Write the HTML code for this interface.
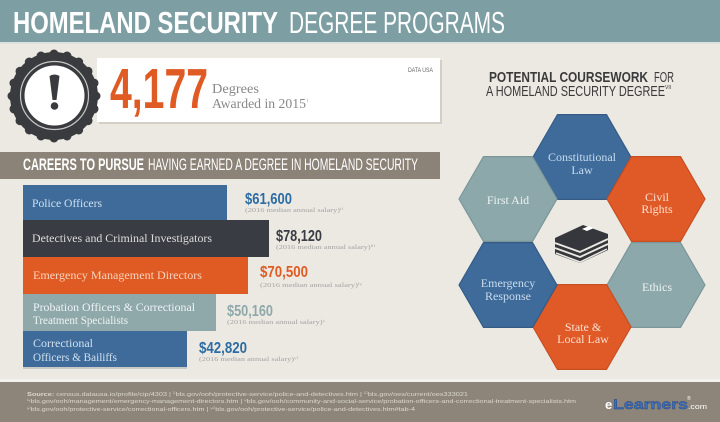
<!DOCTYPE html>
<html><head><meta charset="utf-8"><style>
html,body{margin:0;padding:0;background:#ece9e3;}
svg{display:block;}
.sans{font-family:"Liberation Sans",sans-serif;}
.serif{font-family:"Liberation Serif",serif;}
</style></head><body>
<svg width="720" height="422" viewBox="0 0 720 422" xmlns="http://www.w3.org/2000/svg">
<rect x="0" y="0" width="720" height="422" fill="#ece9e3"/>
<!-- header -->
<rect x="0" y="0" width="720" height="42" fill="#7d9ea3"/>
<rect x="0" y="42" width="720" height="2" fill="#dfe3e0"/>
<text class="sans" x="13" y="33" font-size="31" font-weight="bold" fill="#ffffff" textLength="265" lengthAdjust="spacingAndGlyphs">HOMELAND SECURITY</text>
<text class="sans" x="289" y="33" font-size="31" fill="#ffffff" textLength="216" lengthAdjust="spacingAndGlyphs">DEGREE PROGRAMS</text>

<!-- card -->
<rect x="99" y="60" width="343" height="64" fill="#d3cfc7"/>
<rect x="97" y="58" width="343" height="64" fill="#ffffff"/>
<text class="sans" x="110" y="108" font-size="57" font-weight="bold" fill="#e05a24" textLength="98" lengthAdjust="spacingAndGlyphs">4,177</text>
<text class="serif" x="212" y="93" font-size="13.5" fill="#888888" textLength="47" lengthAdjust="spacingAndGlyphs">Degrees</text>
<text class="serif" x="212" y="108" font-size="13.5" fill="#888888" textLength="94" lengthAdjust="spacingAndGlyphs">Awarded in 2015</text>
<text class="serif" x="307" y="102" font-size="5" fill="#888888">i</text>
<text class="sans" x="408" y="72" font-size="6" fill="#666" textLength="25" lengthAdjust="spacingAndGlyphs">DATA USA</text>

<!-- badge -->
<g fill="#3a3b3f">
<circle cx="54" cy="96" r="44"/>
<circle cx="96" cy="96" r="4.5"/><circle cx="94.0" cy="108.9" r="4.5"/><circle cx="88.0" cy="120.7" r="4.5"/>
<circle cx="78.7" cy="130.0" r="4.5"/><circle cx="67.0" cy="136.0" r="4.5"/><circle cx="54" cy="138" r="4.5"/>
<circle cx="41.0" cy="136.0" r="4.5"/><circle cx="29.3" cy="130.0" r="4.5"/><circle cx="20.0" cy="120.7" r="4.5"/>
<circle cx="14.0" cy="108.9" r="4.5"/><circle cx="12" cy="96" r="4.5"/><circle cx="14.0" cy="83.1" r="4.5"/>
<circle cx="20.0" cy="71.3" r="4.5"/><circle cx="29.3" cy="62.0" r="4.5"/><circle cx="41.0" cy="56.0" r="4.5"/>
<circle cx="54" cy="54" r="4.5"/><circle cx="67.0" cy="56.0" r="4.5"/><circle cx="78.7" cy="62.0" r="4.5"/>
<circle cx="88.0" cy="71.3" r="4.5"/><circle cx="94.0" cy="83.1" r="4.5"/>
</g>
<circle cx="54.5" cy="95.5" r="34" fill="none" stroke="#c8c8c8" stroke-width="1.2"/>
<circle cx="54.5" cy="95.5" r="30" fill="#ffffff"/>
<path d="M49.5 76 Q54.5 73 59.5 76 L56.5 100 L52.5 100 Z" fill="#3a3b3f"/>
<circle cx="54.5" cy="106" r="3.8" fill="#3a3b3f"/>

<!-- careers band -->
<rect x="0" y="152" width="440" height="27" fill="#8c8378"/>
<text class="sans" x="23" y="170" font-size="16.5" font-weight="bold" fill="#ffffff" textLength="121" lengthAdjust="spacingAndGlyphs">CAREERS TO PURSUE</text>
<text class="sans" x="148" y="170" font-size="16.5" fill="#ffffff" textLength="270" lengthAdjust="spacingAndGlyphs">HAVING EARNED A DEGREE IN HOMELAND SECURITY</text>

<!-- bars -->
<rect x="23" y="185" width="204" height="35" fill="#3e6b9a"/>
<rect x="23" y="220" width="246" height="37" fill="#393c42"/>
<rect x="23" y="257" width="225" height="37" fill="#e05b24"/>
<rect x="23" y="294" width="193" height="37" fill="#8fa8aa"/>
<rect x="23" y="331" width="164" height="36" fill="#3e6b9a"/>
<rect x="23" y="367" width="164" height="2" fill="#c9c9c6"/>

<g class="serif" font-size="12">
<text x="32" y="207" fill="#cfe0f0" textLength="70" lengthAdjust="spacingAndGlyphs">Police Officers</text>
<text x="32" y="242" fill="#dddddd" textLength="180" lengthAdjust="spacingAndGlyphs">Detectives and Criminal Investigators</text>
<text x="33" y="279" fill="#f9d3bd" textLength="169" lengthAdjust="spacingAndGlyphs">Emergency Management Directors</text>
<text x="33" y="311" fill="#eef3f3" textLength="162" lengthAdjust="spacingAndGlyphs">Probation Officers &amp; Correctional</text>
<text x="33" y="324" fill="#eef3f3" textLength="95" lengthAdjust="spacingAndGlyphs">Treatment Specialists</text>
<text x="33" y="347" fill="#cfe0f0" textLength="60" lengthAdjust="spacingAndGlyphs">Correctional</text>
<text x="33" y="361" fill="#cfe0f0" textLength="84" lengthAdjust="spacingAndGlyphs">Officers &amp; Bailiffs</text>
</g>

<g class="sans" font-weight="bold" font-size="15.5">
<text x="245" y="204" fill="#2d6ca2" textLength="47" lengthAdjust="spacingAndGlyphs">$61,600</text>
<text x="276" y="241" fill="#393c42" textLength="46" lengthAdjust="spacingAndGlyphs">$78,120</text>
<text x="260" y="277" fill="#e05b24" textLength="48" lengthAdjust="spacingAndGlyphs">$70,500</text>
<text x="227" y="316" fill="#8fa8aa" textLength="46" lengthAdjust="spacingAndGlyphs">$50,160</text>
<text x="199" y="353" fill="#2d6ca2" textLength="48" lengthAdjust="spacingAndGlyphs">$42,820</text>
</g>
<g class="serif" font-size="6.5" fill="#a4a4a4">
<text x="245" y="212" textLength="98" lengthAdjust="spacingAndGlyphs">(2016 median annual salary)ⁱⁱ</text>
<text x="276" y="249" textLength="99" lengthAdjust="spacingAndGlyphs">(2016 median annual salary)ⁱⁱⁱ</text>
<text x="260" y="287" textLength="102" lengthAdjust="spacingAndGlyphs">(2016 median annual salary)ⁱᵛ</text>
<text x="227" y="324" textLength="98" lengthAdjust="spacingAndGlyphs">(2016 median annual salary)ᵛ</text>
<text x="199" y="361" textLength="99" lengthAdjust="spacingAndGlyphs">(2016 median annual salary)ᵛⁱ</text>
</g>

<!-- right title -->
<text class="sans" x="489" y="82" font-size="14.5" font-weight="bold" fill="#3a3a3a" textLength="159" lengthAdjust="spacingAndGlyphs">POTENTIAL COURSEWORK</text>
<text class="sans" x="654" y="82" font-size="14.5" fill="#3a3a3a" textLength="20" lengthAdjust="spacingAndGlyphs">FOR</text>
<text class="sans" x="486" y="96" font-size="14.5" fill="#3a3a3a" textLength="179" lengthAdjust="spacingAndGlyphs">A HOMELAND SECURITY DEGREE</text>
<text class="sans" x="665" y="89" font-size="5" fill="#3a3a3a">VII</text>

<!-- hexagons -->
<g stroke-width="1.2" stroke-linejoin="round">
<polygon points="533,157 557.5,114.6 606.5,114.6 631,157 606.5,199.4 557.5,199.4" fill="#3e6b9a" stroke="#345c86"/>
<polygon points="607,199 631.5,156.6 680.5,156.6 705,199 680.5,241.4 631.5,241.4" fill="#e05a28" stroke="#c84e20"/>
<polygon points="607,285 631.5,242.6 680.5,242.6 705,285 680.5,327.4 631.5,327.4" fill="#8ca8aa" stroke="#7a9699"/>
<polygon points="533,327 557.5,284.6 606.5,284.6 631,327 606.5,369.4 557.5,369.4" fill="#e05a28" stroke="#c84e20"/>
<polygon points="459,285 483.5,242.6 532.5,242.6 557,285 532.5,327.4 483.5,327.4" fill="#3e6b9a" stroke="#345c86"/>
<polygon points="459,199 483.5,156.6 532.5,156.6 557,199 532.5,241.4 483.5,241.4" fill="#8ca8aa" stroke="#7a9699"/>
</g>
<g class="serif" font-size="12" text-anchor="middle">
<text x="582" y="161" fill="#cadcee">Constitutional</text>
<text x="582" y="174" fill="#cadcee">Law</text>
<text x="657" y="201" fill="#fbe0cf">Civil</text>
<text x="657" y="213" fill="#fbe0cf">Rights</text>
<text x="508" y="204" fill="#eef3f3">First Aid</text>
<text x="508" y="287" fill="#cadcee">Emergency</text>
<text x="508" y="300" fill="#cadcee">Response</text>
<text x="657" y="291" fill="#eef3f3">Ethics</text>
<text x="583" y="331" fill="#fbe0cf">State &amp;</text>
<text x="583" y="343" fill="#fbe0cf">Local Law</text>
</g>
<!-- books icon -->
<polygon points="555,238 583,225 608,234 608,250 580,263 555,254" fill="#35373c"/>
<polyline points="555,243 580,252 608,239" fill="none" stroke="#ece9e3" stroke-width="1.8"/>
<polyline points="555,248 580,257 608,244" fill="none" stroke="#ece9e3" stroke-width="1.8"/>
<polyline points="556,253 580,262 607,249" fill="none" stroke="#ece9e3" stroke-width="1.5"/>
<polygon points="582,229 589,226 594,228 587,231" fill="#ffffff"/>

<!-- footer -->
<rect x="0" y="379" width="720" height="3" fill="#f4f2ee"/>
<rect x="0" y="382" width="720" height="40" fill="#8d8579"/>
<g class="sans" font-size="5.5" fill="#ddd7cf">
<text x="27" y="396" textLength="441" lengthAdjust="spacingAndGlyphs"><tspan font-weight="bold">Source:</tspan> census.datausa.io/profile/cip/4303 | ⁱⁱbls.gov/ooh/protective-service/police-and-detectives.htm | ⁱⁱⁱbls.gov/oes/current/oes333021</text>
<text x="27" y="403" textLength="549" lengthAdjust="spacingAndGlyphs">ⁱᵛbls.gov/ooh/management/emergency-management-directors.htm | ᵛbls.gov/ooh/community-and-social-service/probation-officers-and-correctional-treatment-specialists.htm</text>
<text x="27" y="411" textLength="388" lengthAdjust="spacingAndGlyphs">ᵛⁱbls.gov/ooh/protective-service/correctional-officers.htm | ᵛⁱⁱbls.gov/ooh/protective-service/police-and-detectives.htm#tab-4</text>
</g>
<text class="sans" x="605" y="409" font-size="13" font-weight="bold" fill="#ffffff">e</text>
<text class="sans" x="613" y="409" font-size="14" font-weight="bold" fill="#3b6fc0" stroke="#25467a" stroke-width="0.4" textLength="75" lengthAdjust="spacingAndGlyphs">Learners</text>
<text class="sans" x="688" y="409" font-size="7" fill="#ffffff" textLength="19" lengthAdjust="spacingAndGlyphs">.com</text>
<text class="sans" x="687" y="400" font-size="5" fill="#ffffff">®</text>
</svg>
</body></html>
